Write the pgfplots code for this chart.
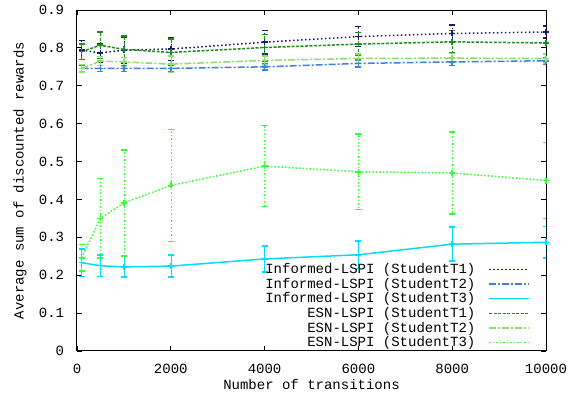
\documentclass[border=0pt]{standalone}
\usepackage{pgfplots}
\pgfplotsset{compat=1.18}
\usepackage{fontspec}
\setmainfont{Liberation Mono}
\definecolor{cT1}{HTML}{1A1A6E}
\definecolor{cT2}{HTML}{3A80E0}
\definecolor{cT3}{HTML}{00DDFF}
\definecolor{eT1}{HTML}{1E8C1E}
\definecolor{eT2}{HTML}{90DC6E}
\definecolor{eT3}{HTML}{33FF33}
\begin{document}
\fontsize{14}{16}\selectfont
\begin{tikzpicture}
\useasboundingbox (-77pt,-47pt) rectangle (502pt,351pt);
\begin{axis}[
  at={(0pt,0pt)}, anchor=south west,
  scale only axis, width=469pt, height=341pt,
  xmin=0, xmax=10000, ymin=0, ymax=0.9,
  xtick={0,2000,4000,6000,8000,10000},
  ytick={0,0.1,0.2,0.3,0.4,0.5,0.6,0.7,0.8,0.9},
  scaled x ticks=false,
  xticklabel style={/pgf/number format/1000 sep={}, yshift=-8pt},
  yticklabel style={/pgf/number format/.cd, fixed, precision=1, /tikz/.cd, xshift=-8pt},
  /pgf/number format/assume math mode=true,
  tick align=inside, major tick length=5pt,
  tick style={black, line width=0.8pt},
  axis line style={line width=1pt},
  xlabel={Number of transitions},
  ylabel={Average sum of discounted rewards},
  xlabel style={at={(axis description cs:0.5,-0.0997)}, anchor=center},
  ylabel style={at={(axis description cs:-0.1215,0.5)}, anchor=center},
  legend plot pos=right,
  legend cell align=right,
  legend style={draw=none, fill=none, at={(axis description cs:0.966,0.0)}, anchor=south east, row sep=-1.6pt, inner sep=0pt,
    /tikz/every odd column/.append style={column sep=11pt},
    font=\fontsize{14}{14}\selectfont},
  legend image code/.code={\draw[#1] (0pt,0pt) -- (40pt,0pt);},
  every axis plot/.append style={line width=1.5pt},
  error bars/y dir=both, error bars/y explicit,
  error bars/error mark=-,
  error bars/error mark options={mark size=3pt, rotate=90, line width=1.5pt},
]
\addplot[color=cT1, dash pattern=on 1.5pt off 2.5pt, mark=+, mark size=3pt, mark options={solid}, error bars/error bar style={color=cT1, dash pattern=on 1.5pt off 2.5pt}] coordinates {
 (100,0.794) +- (0,0.025)
 (500,0.787) +- (0,0.025)
 (1000,0.794) +- (0,0.035)
 (2000,0.797) +- (0,0.03)
 (4000,0.815) +- (0,0.031)
 (6000,0.830) +- (0,0.026)
 (8000,0.838) +- (0,0.022)
 (10000,0.842) +- (0,0.016)
};
\addlegendentry{Informed-LSPI (StudentT1)}
\addplot[color=cT2, dash pattern=on 7pt off 2pt on 2pt off 2pt, mark=+, mark size=3pt, mark options={solid}, error bars/error bar style={color=cT2, solid}] coordinates {
 (100,0.746) +- (0,0.008)
 (500,0.746) +- (0,0.008)
 (1000,0.746) +- (0,0.008)
 (2000,0.746) +- (0,0.008)
 (4000,0.750) +- (0,0.009)
 (6000,0.759) +- (0,0.009)
 (8000,0.763) +- (0,0.009)
 (10000,0.766) +- (0,0.009)
};
\addlegendentry{Informed-LSPI (StudentT2)}
\addplot[color=cT3, solid, mark=+, mark size=3pt, error bars/error bar style={color=cT3, solid}] coordinates {
 (100,0.233) +- (0,0.036)
 (500,0.225) +- (0,0.029)
 (1000,0.222) +- (0,0.027)
 (2000,0.224) +- (0,0.029)
 (4000,0.243) +- (0,0.034)
 (6000,0.254) +- (0,0.036)
 (8000,0.282) +- (0,0.045)
 (10000,0.287) +- (0,0.042)
};
\addlegendentry{Informed-LSPI (StudentT3)}
\addplot[color=eT1, dash pattern=on 3pt off 1.5pt, mark=+, mark size=3pt, mark options={solid}, error bars/error bar style={color=eT1, dash pattern=on 3pt off 1.5pt}] coordinates {
 (100,0.790) +- (0,0.02)
 (500,0.807) +- (0,0.035)
 (1000,0.796) +- (0,0.035)
 (2000,0.788) +- (0,0.035)
 (4000,0.801) +- (0,0.035)
 (6000,0.810) +- (0,0.03)
 (8000,0.816) +- (0,0.03)
 (10000,0.813) +- (0,0.03)
};
\addlegendentry{ESN-LSPI (StudentT1)}
\addplot[color=eT2, dash pattern=on 7pt off 2pt on 2pt off 2pt, mark=+, mark size=3pt, mark options={solid}, error bars/error bar style={color=eT2, solid}] coordinates {
 (100,0.746) +- (0,0.01)
 (500,0.765) +- (0,0.012)
 (1000,0.763) +- (0,0.012)
 (2000,0.757) +- (0,0.022)
 (4000,0.767) +- (0,0.012)
 (6000,0.772) +- (0,0.012)
 (8000,0.773) +- (0,0.012)
 (10000,0.772) +- (0,0.012)
};
\addlegendentry{ESN-LSPI (StudentT2)}
\addplot[color=eT3, dash pattern=on 1.5pt off 2pt, mark=+, mark size=3pt, mark options={solid}, error bars/error bar style={color=eT3, dash pattern=on 1.5pt off 2pt}] coordinates {
 (100,0.246) +- (0,0.035)
 (500,0.350) +- (0,0.105)
 (1000,0.391) +- (0,0.14)
 (2000,0.437) +- (0,0.148)
 (4000,0.488) +- (0,0.107)
 (6000,0.473) +- (0,0.1)
 (8000,0.470) +- (0,0.108)
 (10000,0.450) +- (0,0.1)
};
\addlegendentry{ESN-LSPI (StudentT3)}
\end{axis}
\end{tikzpicture}
\end{document}
